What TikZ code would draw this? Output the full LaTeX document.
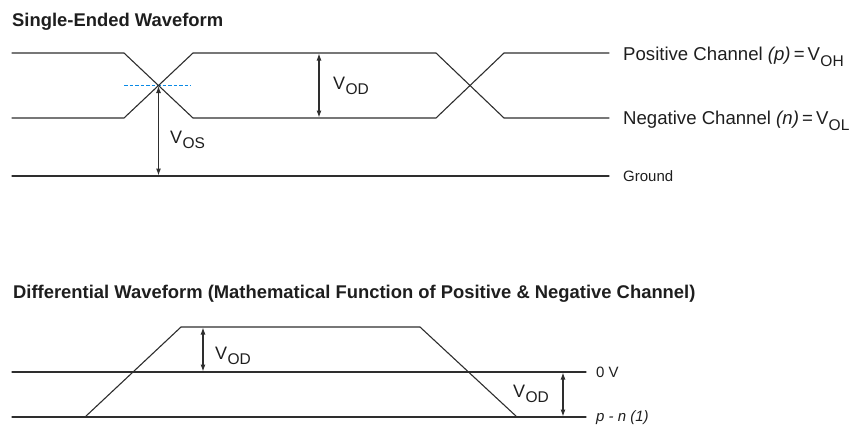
\documentclass[tikz,border=0pt]{standalone}
\usepackage{fontspec}
\setmainfont{Liberation Sans}
\usetikzlibrary{arrows.meta,positioning,calc}
\definecolor{wire}{HTML}{2E2E2E}
\definecolor{ink}{HTML}{1E1E1E}
\definecolor{midblue}{HTML}{0A8AE6}
\newcommand{\Vsub}[1]{V\kern0.3pt\raisebox{-0.62ex}{\fontsize{15.5}{15.5}\selectfont #1}}
\tikzset{
    every picture/.style={line cap=round,line join=round},
    level/.style={draw=wire,line width=1.1pt},
    wave/.style={draw=wire,line width=1.1pt},
    midline/.style={draw=midblue,line width=1.5pt,line cap=butt,dash pattern=on 3.5pt off 2pt},
    span/.style={{Latex[length=7pt,width=5pt]}-{Latex[length=7pt,width=5pt]},
      draw=wire,line width=1.1pt,shorten <=0.5pt,shorten >=0.5pt},
    heading/.style={anchor=base west,inner sep=0pt,text=ink,
      font=\fontsize{18.4}{20}\selectfont\bfseries},
    chlabel/.style={anchor=base west,inner sep=0pt,text=ink,
      font=\fontsize{18.6}{20}\selectfont},
    reflabel/.style={anchor=base west,inner sep=0pt,text=ink,
      font=\fontsize{15}{17}\selectfont},
    vlabel/.style={anchor=base west,inner sep=0pt,text=ink,
      font=\fontsize{18}{20}\selectfont}
}

\begin{document}
\begin{tikzpicture}[x=1pt,y=-1pt]
  \useasboundingbox (0,0) rectangle (853,424);

  % single-ended part
  \node[heading] (setitle) at (12,26) {Single-Ended Waveform};

  \coordinate (hiL) at (12,53);   \coordinate (loL) at (12,118);
  \coordinate (x1a) at (124,53);  \coordinate (x1b) at (124,118);
  \coordinate (x1c) at (193,53);  \coordinate (x1d) at (193,118);
  \coordinate (x2a) at (436,53);  \coordinate (x2b) at (436,118);
  \coordinate (x2c) at (504,53);  \coordinate (x2d) at (504,118);
  \coordinate (hiR) at (609,53);  \coordinate (loR) at (609,118);
  \coordinate (gndL) at (12,176); \coordinate (gndR) at (609,176);
  \coordinate (cross) at (158.5,85.5);

  \draw[midline] (124,85.5) -- (191,85.5);
  \draw[wave] (hiL) -- (x1a) -- (x1d) -- (x2b) -- (x2c) -- (hiR);
  \draw[wave] (loL) -- (x1b) -- (x1c) -- (x2a) -- (x2d) -- (loR);
  \draw[level] (gndL) -- (gndR);

  \draw[span] (cross) -- (cross |- gndL);
  \draw[span] (319,53) -- (319,118);
  \node[vlabel] (vos) at (170,143) {\Vsub{OS}};
  \node[vlabel] (vodse) at (333,89) {\Vsub{OD}};

  \node[chlabel] (pos) at (623,60) {Positive Channel \textit{(p)}\,=\,\Vsub{OH}};
  \node[chlabel] (neg) at (623,124) {Negative Channel \textit{(n)}\,=\,\Vsub{OL}};
  \node[reflabel] (gnd) at (623,181) {Ground};

  % differential part
  \node[heading] (dftitle) at (13,298)
    {Differential Waveform (Mathematical Function of Positive \& Negative Channel)};

  \coordinate (zeroL) at (12,372); \coordinate (zeroR) at (586,372);
  \coordinate (botL) at (12,417);  \coordinate (botR) at (586,417);
  \coordinate (rise0) at (85,417); \coordinate (rise1) at (181,327);
  \coordinate (fall0) at (420,327); \coordinate (fall1) at (517,417);

  \draw[level] (zeroL) -- (zeroR);
  \draw[level] (botL) -- (botR);
  \draw[wave] (rise0) -- (rise1) -- (fall0) -- (fall1);

  \draw[span] (203,327) -- (203,372);
  \draw[span] (563,372) -- (563,417);
  \node[vlabel] (vodhi) at (215,359) {\Vsub{OD}};
  \node[vlabel] (vodlo) at (513,397) {\Vsub{OD}};

  \node[reflabel] (zerov) at (596,377) {0 V};
  \node[reflabel] (pmn) at (596,421) {\textit{p - n (1)}};
\end{tikzpicture}
\end{document}
